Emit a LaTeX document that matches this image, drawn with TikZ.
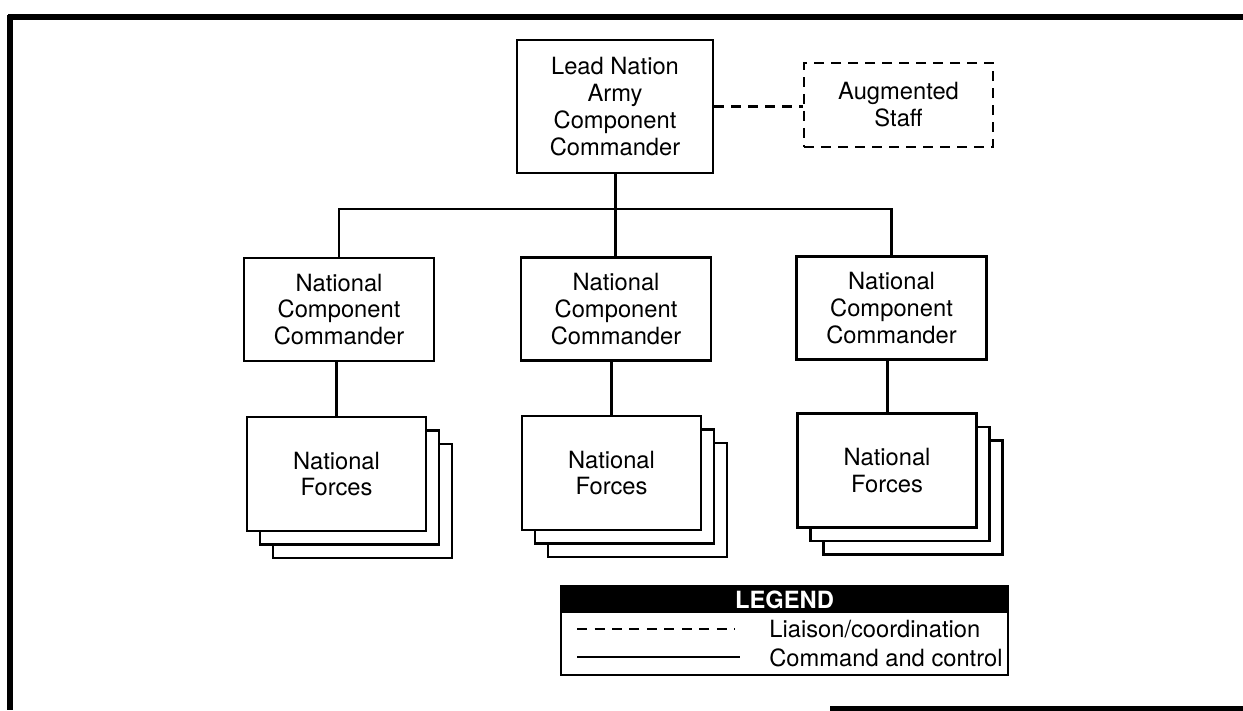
\documentclass[tikz,border=0pt]{standalone}
\usepackage{fontspec}
\setmainfont{TeX Gyre Heros}
\usetikzlibrary{calc}

\begin{document}
\begin{tikzpicture}[x=0.02cm,y=-0.02cm,
  box/.style={draw,line width=1.4pt,fill=white,align=center,inner sep=0pt,
    font=\fontsize{13.5}{15.3}\selectfont},
  cmdbox/.style={box,minimum width=3.8cm,minimum height=2.06cm},
  forcebox/.style={box,minimum width=3.58cm,minimum height=2.28cm},
  liaison/.style={line width=1.3pt,dash pattern=on 0.2cm off 0.14cm},
  command/.style={line width=1.7pt},
  frame/.style={line width=3pt}]

\useasboundingbox (0,0) rectangle (1243,710);

% page frame (scan edge)
\draw [frame] (8,17) -- (1243,17);
\draw [frame] (10,15) -- (10,710);
\draw [frame] (830,708.5) -- (1243,708.5);

% lead nation and staff
\node (lead) [box,minimum width=3.92cm,minimum height=2.66cm] at (615,106.5)
  {Lead Nation\\Army\\Component\\Commander};
\node (staff) [box,liaison,minimum width=3.78cm,minimum height=1.68cm] at (898.5,105)
  {Augmented\\Staff};
\draw [liaison] (lead.east) -- (lead.east -| staff.west);

% national component commanders
\node (ncL) [cmdbox] at (339,309.5) {National\\Component\\Commander};
\node (ncC) [cmdbox] at (616,309) {National\\Component\\Commander};
\node (ncR) [cmdbox] at (891.5,308) {National\\Component\\Commander};
%
\coordinate (bus) at (615,209);
\draw [command] (lead.south) -- (lead.south |- ncC.north);
\draw [command] (ncL.north) -- (ncL.north |- bus) -- (ncR.north |- bus) -- (ncR.north);

% national forces (stacked)
\node (nfL3) [forcebox] at (362.5,501) {};
\node (nfL2) [forcebox] at (349.5,487.5) {};
\node (nfL) [forcebox] at (336.5,474) {National\\Forces};
%
\node (nfC3) [forcebox] at (637.5,500) {};
\node (nfC2) [forcebox] at (624.5,486.5) {};
\node (nfC) [forcebox] at (611.5,473) {National\\Forces};
%
\node (nfR3) [forcebox] at (913,497.5) {};
\node (nfR2) [forcebox] at (900,484) {};
\node (nfR) [forcebox] at (887,470.5) {National\\Forces};
%
\draw [command] (nfL.north) -- (nfL.north |- ncL.south);
\draw [command] (nfC.north) -- (nfC.north |- ncC.south);
\draw [command] (nfR.north) -- (nfR.north |- ncR.south);

% legend
\node (legend) [draw,line width=1pt,inner sep=0pt,minimum width=8.94cm,minimum height=1.78cm] at (784.5,630.5) {};
\node (legendhead) [fill=black,text=white,inner sep=0pt,minimum width=8.94cm,minimum height=0.54cm,
  font=\fontsize{13.5}{15}\selectfont\bfseries] at (784.5,599.5) {LEGEND};
\coordinate (dashA) at (577,629);
\coordinate (dashB) at (735,629);
\coordinate (solidA) at (577,657);
\coordinate (solidB) at (740,657);
\draw [line width=1.1pt,dash pattern=on 0.2cm off 0.15cm] (dashA) -- (dashB);
\draw [line width=1.1pt] (solidA) -- (solidB);
\node (liaisontxt) [anchor=base west,inner sep=0pt,font=\fontsize{13.5}{15}\selectfont] at (769,637) {Liaison/coordination};
\node (commandtxt) [anchor=base west,inner sep=0pt,font=\fontsize{13.5}{15}\selectfont] at (769,666) {Command and control};

\end{tikzpicture}
\end{document}
